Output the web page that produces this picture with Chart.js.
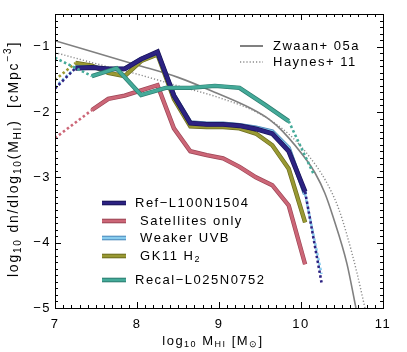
<!DOCTYPE html>
<html>
<head>
<meta charset="utf-8">
<script src="https://cdn.jsdelivr.net/npm/chart.js@4"></script>
<style>
  html, body { margin: 0; padding: 0; background: #fff; }
  canvas { display: block; }
</style>
</head>
<body>
<canvas id="himf" width="407" height="352"></canvas>
<script>
const FONT = "'Liberation Sans', Arial, sans-serif";

// log10 M_HI bins and log10 dn/dlog10(M_HI) values
const refMass   = [7.0, 7.25, 7.45, 7.65, 7.85, 8.05, 8.25, 8.45, 8.65, 8.85, 9.05, 9.25, 9.45, 9.65, 9.85, 10.05, 10.25];
const refHimf   = [-1.64, -1.33, -1.32, -1.34, -1.34, -1.19, -1.08, -1.75, -2.17, -2.19, -2.19, -2.21, -2.26, -2.33, -2.60, -3.22, -4.61];
const weakMass  = [7.0, 7.25, 7.45, 7.65, 7.85, 8.05, 8.25, 8.45, 8.65, 8.85, 9.05, 9.25, 9.45, 9.65, 9.85, 10.05, 10.25];
const weakHimf  = [-1.62, -1.32, -1.32, -1.34, -1.34, -1.19, -1.09, -1.74, -2.16, -2.18, -2.18, -2.20, -2.24, -2.30, -2.55, -3.26, -4.48];
const gkMass    = [7.0, 7.25, 7.45, 7.65, 7.85, 8.05, 8.25, 8.45, 8.65, 8.85, 9.05, 9.25, 9.45, 9.65, 9.85, 10.05];
const gkHimf    = [-1.51, -1.25, -1.29, -1.40, -1.45, -1.22, -1.12, -1.80, -2.22, -2.23, -2.23, -2.25, -2.33, -2.51, -2.87, -3.69];
const satMass   = [7.0, 7.45, 7.65, 7.85, 8.05, 8.25, 8.45, 8.65, 8.85, 9.05, 9.25, 9.45, 9.65, 9.85, 10.05];
const satHimf   = [-2.40, -1.97, -1.80, -1.75, -1.67, -1.59, -2.25, -2.60, -2.66, -2.71, -2.84, -3.00, -3.12, -3.43, -4.33];
const recalMass = [7.0, 7.45, 7.75, 8.05, 8.35, 8.65, 8.95, 9.25, 9.55, 9.85, 10.15];
const recalHimf = [-1.17, -1.45, -1.33, -1.74, -1.63, -1.63, -1.60, -1.63, -1.88, -2.14, -2.94];

// first and last index of the solid (well resolved) part of each curve
const refSolid   = [1, 15];
const weakSolid  = [1, 15];
const gkSolid    = [1, 15];
const satSolid   = [1, 14];
const recalSolid = [1, 9];

// observed HIMFs
const zwaanMass  = [7.0, 8.0, 8.5, 8.97, 9.38, 9.62, 9.78, 10.07, 10.17, 10.29, 10.39, 10.56, 10.67];
const zwaanHimf  = [-0.91, -1.28, -1.47, -1.71, -1.94, -2.12, -2.30, -2.74, -2.93, -3.24, -3.60, -4.32, -5.0];
const haynesMass = [7.0, 7.5, 8.0, 8.5, 9.0, 9.5, 9.87, 10.1, 10.3, 10.45, 10.56, 10.68, 10.78];
const haynesHimf = [-1.09, -1.26, -1.42, -1.60, -1.78, -2.03, -2.36, -2.68, -3.05, -3.45, -3.88, -4.45, -5.0];

const xTicks = [7, 8, 9, 10, 11];
const yTicks = [-5, -4, -3, -2, -1];

// label pieces: [text, 'n' normal | 'b' subscript | 'p' superscript]
const xTitle = [['log', 'n'], ['10', 'b'], [' M', 'n'], ['HI', 'b'], [' [M', 'n'], ['\u2299', 'b'], [']', 'n']];
const yTitle = [['log', 'n'], ['10', 'b'], [' dn/dlog', 'n'], ['10', 'b'], ['(M', 'n'], ['HI', 'b'], [')  [cMpc', 'n'], ['\u22123', 'p'], [']', 'n']];

const simLabels = [
  [['Ref\u2212L100N1504', 'n']],
  [[' Satellites only', 'n']],
  [[' Weaker UVB', 'n']],
  [[' GK11 H', 'n'], ['2', 'b']],
  [['Recal\u2212L025N0752', 'n']]
];
const obsLabels = ['Zwaan+ 05a', 'Haynes+ 11'];

// styles
const sims = [
  { x: refMass,   y: refHimf,   solid: refSolid,   color: '#2c2282', edge: '#1a1458', w: 3.5, order: 2 },
  { x: satMass,   y: satHimf,   solid: satSolid,   color: '#cc6677', edge: '#9c4656', w: 3,   order: 5 },
  { x: weakMass,  y: weakHimf,  solid: weakSolid,  color: '#88ccee', edge: '#4a86b8', w: 3,   order: 3 },
  { x: gkMass,    y: gkHimf,    solid: gkSolid,    color: '#999933', edge: '#6c6c1e', w: 3,   order: 4 },
  { x: recalMass, y: recalHimf, solid: recalSolid, color: '#44aa99', edge: '#2d7c6f', w: 3,   order: 1 }
];
const legendRows = [203, 221, 238, 256, 280];

function toPoints(xs, ys) {
  return xs.map((x, i) => ({ x: x, y: ys[i] }));
}

const datasets = [];
sims.forEach(s => {
  const pts = toPoints(s.x, s.y);
  const dotted = c => c.p0DataIndex < s.solid[0] || c.p0DataIndex >= s.solid[1];
  // darker rim under the solid part
  datasets.push({
    data: pts, borderColor: s.edge, borderWidth: s.w + 1.4, pointRadius: 0, tension: 0,
    order: s.order + 0.5,
    segment: { borderColor: c => dotted(c) ? 'rgba(0,0,0,0)' : s.edge }
  });
  datasets.push({
    data: pts, borderColor: s.color, borderWidth: s.w, pointRadius: 0, tension: 0,
    order: s.order,
    segment: {
      borderDash: c => dotted(c) ? [2.5, 2.5] : undefined,
      borderWidth: c => dotted(c) ? 2.6 : s.w
    }
  });
});
datasets.push({
  data: toPoints(zwaanMass, zwaanHimf), borderColor: '#808080', borderWidth: 1.6,
  pointRadius: 0, cubicInterpolationMode: 'monotone', order: 7
});
datasets.push({
  data: toPoints(haynesMass, haynesHimf), borderColor: '#8a8a8a', borderWidth: 1.4, borderDash: [1.2, 2],
  pointRadius: 0, cubicInterpolationMode: 'monotone', order: 6
});

function partFont(kind, size) {
  return (kind === 'n' ? size : Math.round(size * 0.7)) + 'px ' + FONT;
}

function drawRich(ctx, parts, x, y, align, size) {
  size = size || 13;
  let w = 0;
  parts.forEach(p => { ctx.font = partFont(p[1], size); w += ctx.measureText(p[0]).width; });
  let cx = align === 'center' ? x - w / 2 : x;
  ctx.textAlign = 'left';
  ctx.textBaseline = 'middle';
  parts.forEach(p => {
    ctx.font = partFont(p[1], size);
    const dy = p[1] === 'b' ? size * 0.3 : (p[1] === 'p' ? -size * 0.4 : 0);
    ctx.fillText(p[0], cx, y + dy);
    cx += ctx.measureText(p[0]).width;
  });
}

const framePlugin = {
  id: 'frame',
  beforeDraw(chart) {
    chart.ctx.letterSpacing = '1.5px';
  },
  afterDatasetsDraw(chart) {
    const ctx = chart.ctx;
    const a = chart.chartArea;
    const xs = chart.scales.x, ys = chart.scales.y;
    ctx.save();
    ctx.strokeStyle = '#000';
    ctx.lineWidth = 1;
    ctx.beginPath();
    // minor ticks every 0.1, major at integers, pointing inwards on all sides
    for (let i = 70; i <= 110; i++) {
      const px = Math.round(xs.getPixelForValue(i / 10)) + 0.5;
      const len = i % 10 === 0 ? 6 : 3;
      ctx.moveTo(px, a.bottom); ctx.lineTo(px, a.bottom - len);
      ctx.moveTo(px, a.top); ctx.lineTo(px, a.top + len);
    }
    for (let i = -50; i <= -5; i++) {
      const py = Math.round(ys.getPixelForValue(i / 10)) + 0.5;
      const len = i % 10 === 0 ? 6 : 3;
      ctx.moveTo(a.left, py); ctx.lineTo(a.left + len, py);
      ctx.moveTo(a.right, py); ctx.lineTo(a.right - len, py);
    }
    ctx.stroke();
    ctx.strokeRect(Math.round(a.left) + 0.5, Math.round(a.top) + 0.5,
                   Math.round(a.right - a.left), Math.round(a.bottom - a.top));
    ctx.restore();
  },
  afterDraw(chart) {
    const ctx = chart.ctx;
    const a = chart.chartArea;
    ctx.save();
    ctx.fillStyle = '#000';
    // axis titles
    drawRich(ctx, xTitle, (a.left + a.right) / 2 - 6, 341, 'center', 13);
    ctx.save();
    ctx.translate(14, 159);
    ctx.rotate(-Math.PI / 2);
    ctx.letterSpacing = '1.8px';
    drawRich(ctx, yTitle, 0, 0, 'center', 14);
    ctx.restore();
    ctx.letterSpacing = '1.5px';

    // observations legend (top right)
    ctx.lineCap = 'butt';
    ctx.strokeStyle = '#808080';
    ctx.lineWidth = 2;
    ctx.beginPath(); ctx.moveTo(240, 46); ctx.lineTo(263, 46); ctx.stroke();
    ctx.strokeStyle = '#8a8a8a';
    ctx.lineWidth = 1.4;
    ctx.setLineDash([1.2, 2]);
    ctx.beginPath(); ctx.moveTo(240, 62); ctx.lineTo(263, 62); ctx.stroke();
    ctx.setLineDash([]);
    drawRich(ctx, [[obsLabels[0], 'n']], 273, 46, 'left');
    drawRich(ctx, [[obsLabels[1], 'n']], 273, 62, 'left');

    // simulations legend (bottom left)
    sims.forEach((s, i) => {
      const y = legendRows[i];
      ctx.strokeStyle = s.edge;
      ctx.lineWidth = 4.6;
      ctx.beginPath(); ctx.moveTo(102, y); ctx.lineTo(126, y); ctx.stroke();
      ctx.strokeStyle = s.color;
      ctx.lineWidth = 2.6;
      ctx.beginPath(); ctx.moveTo(102, y); ctx.lineTo(126, y); ctx.stroke();
      drawRich(ctx, simLabels[i], 135, y, 'left');
    });
    ctx.restore();
    ctx.letterSpacing = '0px';
  }
};

new Chart(document.getElementById('himf'), {
  type: 'line',
  data: { datasets: datasets },
  options: {
    responsive: false,
    animation: false,
    events: [],
    layout: { padding: { left: 0, right: 24, top: 14, bottom: 0 } },
    plugins: { legend: { display: false }, tooltip: { enabled: false } },
    scales: {
      x: {
        type: 'linear', min: 7, max: 11,
        grid: { display: false, drawTicks: false },
        border: { display: false },
        afterBuildTicks: s => { s.ticks = xTicks.map(v => ({ value: v })); },
        afterFit: s => { s.height = 44; },
        ticks: { padding: 9, color: '#000', maxRotation: 0, autoSkip: false,
                 font: { family: FONT, size: 13 }, callback: v => String(v) }
      },
      y: {
        type: 'linear', min: -5, max: -0.5,
        grid: { display: false, drawTicks: false },
        border: { display: false },
        afterBuildTicks: s => { s.ticks = yTicks.map(v => ({ value: v })); },
        afterFit: s => { s.width = 55; },
        ticks: { padding: 4, color: '#000', autoSkip: false,
                 font: { family: FONT, size: 13 }, callback: v => '\u2212' + Math.abs(v) }
      }
    }
  },
  plugins: [framePlugin]
});
</script>
</body>
</html>
